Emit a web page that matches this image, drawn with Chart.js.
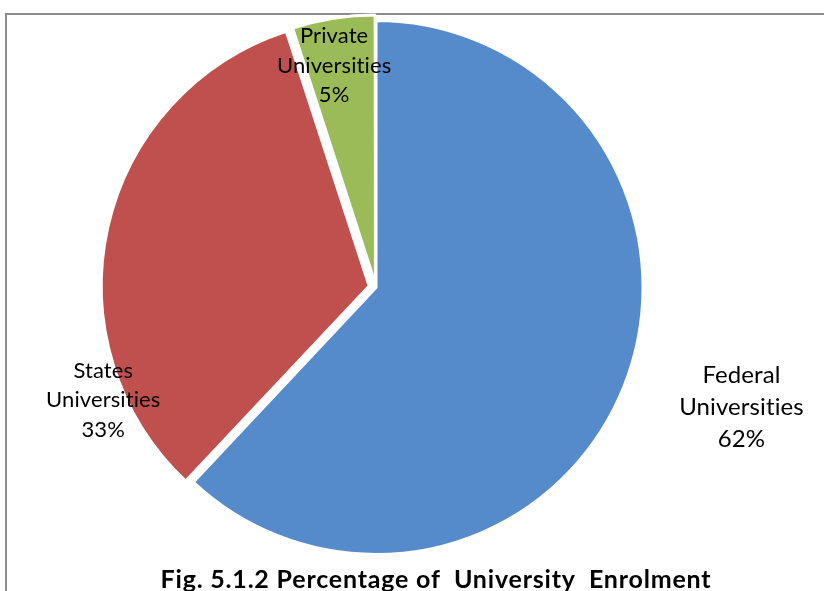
<!DOCTYPE html>
<html>
<head>
<meta charset="utf-8">
<script src="https://cdn.jsdelivr.net/npm/chart.js@4"></script>
<style>
    html, body { margin: 0; padding: 0; background: #fff; overflow: hidden; }
    #wrap { position: relative; width: 824px; height: 591px; overflow: hidden; }
    #frame { position: absolute; left: 5px; top: 13px; width: 900px; height: 700px; border: 2px solid #8c8c8c; }
    #box { position: absolute; left: 0; top: 0; width: 824px; height: 591px; }
    #caption {
        position: absolute; left: 36px; width: 800px; top: 564px;
        text-align: center; white-space: pre; letter-spacing: 0.8px;
        font: bold 25px/28px Lato, sans-serif; color: #000;
    }
</style>
</head>
<body>
<div id="wrap">
    <div id="frame"></div>
    <div id="box"><canvas id="canvas"></canvas></div>
    <div id="caption">Fig. 5.1.2 Percentage of  University  Enrolment</div>
</div>
<script>
// Категории и доли.
const categories = ['Federal Universities', 'States Universities', 'Private Universities']
const shares = [62, 33, 5]
const colors = ['#558ACB', '#C0504D', '#9BBB59']

// Выдвижение секторов (Chart.js сдвигает сектор на offset / 4).
const explode = [0, 28, 13]

// Размещение подписей: поворот от середины сектора (град.), доля радиуса, размер шрифта, интерлиньяж.
const labelTurn = [-3.5, -35, -1.7]
const labelReach = [1.44, 1.105, 0.845]
const labelSize = [24, 22, 22]
const labelLead = [32, 29.5, 29.5]

Chart.defaults.animation = false
Chart.defaults.maintainAspectRatio = false
Chart.defaults.plugins.legend.display = false
Chart.defaults.plugins.tooltip.enabled = false

// Подписи секторов.
const sliceLabels = {
    id: 'sliceLabels',
    afterDatasetsDraw(chart) {
        const ctx = chart.ctx
        const meta = chart.getDatasetMeta(0)

        meta.data.forEach((arc, i) => {
            const { x, y, startAngle, endAngle, outerRadius } =
                arc.getProps(['x', 'y', 'startAngle', 'endAngle', 'outerRadius'], true)
            const angle = (startAngle + endAngle) / 2 + labelTurn[i] * Math.PI / 180
            const dist = outerRadius * labelReach[i]
            const cx = x + Math.cos(angle) * dist
            const cy = y + Math.sin(angle) * dist
            const lines = [...categories[i].split(' '), shares[i] + '%']

            ctx.save()
            ctx.font = `${labelSize[i]}px Lato, sans-serif`
            // Ненулевой межбуквенный интервал отключает лигатуру «ti».
            ctx.letterSpacing = '0.1px'
            ctx.fillStyle = '#000'
            ctx.textAlign = 'center'
            ctx.textBaseline = 'middle'
            lines.forEach((line, j) => {
                ctx.fillText(line, cx, cy + (j - 1) * labelLead[i])
            })
            ctx.restore()
        })
    },
}

window.addEventListener('DOMContentLoaded', () => {
    const canvas = document.querySelector('#canvas')

    new Chart(canvas, {
        type: 'pie',
        data: {
            labels: categories,
            datasets: [
                {
                    data: shares,
                    backgroundColor: colors,
                    borderColor: '#fff',
                    borderWidth: 3,
                    offset: explode,
                    radius: 267,
                },
            ],
        },
        options: {
            layout: {
                padding: { left: 0, right: 72, top: 0, bottom: 16 },
            },
        },
        plugins: [sliceLabels],
    })
})
</script>
</body>
</html>
